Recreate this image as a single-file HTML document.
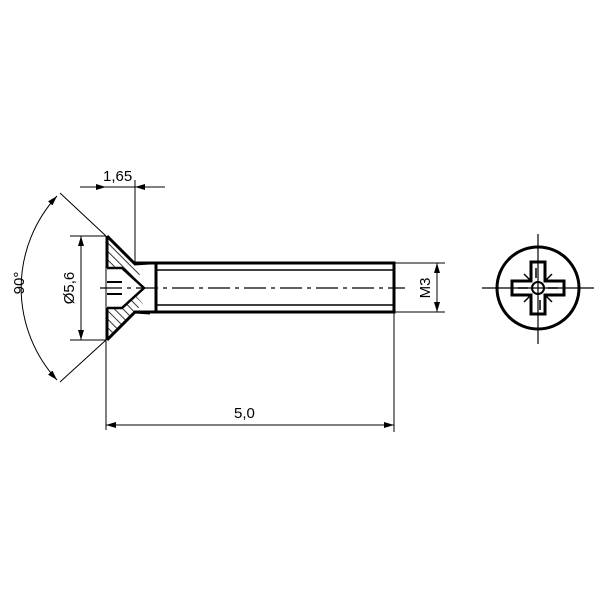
<!DOCTYPE html><html><head><style>body{margin:0;background:#fff}</style></head><body>
<svg width="600" height="600" xmlns="http://www.w3.org/2000/svg" font-family="Liberation Sans, sans-serif">
<defs><marker id="a" viewBox="0 0 10 6" refX="10" refY="3" markerWidth="10" markerHeight="6" orient="auto-start-reverse" markerUnits="userSpaceOnUse"><path d="M0,0L10,3L0,6z" fill="#000"/></marker>
<pattern id="h" width="6" height="6" patternUnits="userSpaceOnUse" patternTransform="rotate(-45)"><line x1="0" y1="0" x2="0" y2="6" stroke="#000" stroke-width="1.6"/></pattern></defs>
<g fill="none" stroke="#000">
<path d="M107,237 L134,264 L143,270 L136,280 L120,268 L107,268 Z" fill="url(#h)" stroke="none"/>
<path d="M107,308 L120,308 L136,296 L143,304 L134,312 L107,339 Z" fill="url(#h)" stroke="none"/>
<path d="M107,236 L135,264 L150,263 M107,340 L135,312 L150,313" stroke-width="3"/>
<path d="M107,236 V268 M107,308 V340" stroke-width="3"/>
<path d="M107,268 L122,268 L144,288 L122,308 L107,308" stroke-width="2.5"/>
<path d="M107,282 H122 M107,294 H122" stroke-width="2"/>
<path d="M135,263 H394 V312 H135" stroke-width="3"/>
<path d="M156,263 V312" stroke-width="3"/>
<path d="M156,270 H394 M156,305 H394" stroke-width="1.5"/>
<line x1="100" y1="288" x2="405" y2="288" stroke-width="1.2" stroke-dasharray="22,5,4,5"/>
<path d="M106,236 V430 M135,180 V264 M394,312 V432 M394,263 H445 M394,312 H445 M70,236 H106 M70,340 H106 M106,236 L60,193 M106,340 L60,382" stroke-width="1"/>
<line x1="106" y1="425" x2="394" y2="425" marker-start="url(#a)" marker-end="url(#a)"/>
<line x1="437" y1="263" x2="437" y2="312" marker-start="url(#a)" marker-end="url(#a)"/>
<line x1="81" y1="236" x2="81" y2="340" marker-start="url(#a)" marker-end="url(#a)"/>
<line x1="80" y1="187" x2="106" y2="187" marker-end="url(#a)"/>
<line x1="165" y1="187" x2="135" y2="187" marker-end="url(#a)"/>
<line x1="106" y1="187" x2="135" y2="187"/>
<path d="M57,196 A136,136 0 0 0 57,380" marker-start="url(#a)" marker-end="url(#a)"/>
<circle cx="538" cy="288" r="41" stroke-width="3"/>
<path d="M482,288 H594 M538,234 V344" stroke-width="1.2"/>
<path d="M531,262 H545 V281 H564 V295 H545 V314 H531 V295 H512 V281 H531 Z" stroke-width="3"/>
<path d="M536,268 V278 M540,300 V310 M518,288 H528 M548,288 H558 M524,274 L532,282 M552,274 L544,282 M524,302 L532,294 M552,302 L544,294" stroke-width="1.5"/>
<circle cx="538" cy="288" r="6" stroke-width="2"/>
</g>
<g font-size="15" fill="#000">
<text x="103" y="181">1,65</text>
<text x="234" y="418">5,0</text>
<text transform="translate(74,288) rotate(-90)" text-anchor="middle">Ø5,6</text>
<text transform="translate(430,288) rotate(-90)" text-anchor="middle">M3</text>
<text transform="translate(24,283) rotate(-90)" text-anchor="middle">90°</text>
</g>
</svg></body></html>
